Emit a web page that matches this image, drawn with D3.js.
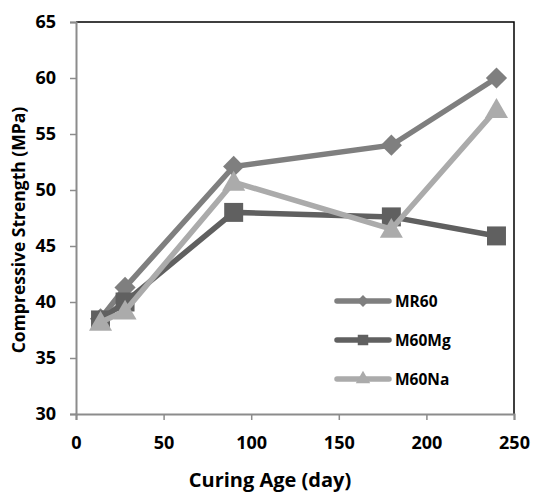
<!DOCTYPE html>
<html><head><meta charset="utf-8">
<script src="https://cdn.jsdelivr.net/npm/d3@7"></script>
<style>body{margin:0;background:#fff;} svg{display:block;}</style>
</head><body>
<script>
const days = [14, 28, 90, 180, 240];
const seriesNames = ["MR60", "M60Mg", "M60Na"];
const mr60 = [38.5, 41.3, 52.1, 54.0, 60.0];
const m60mg = [38.4, 40.0, 48.0, 47.6, 45.9];
const m60na = [38.2, 39.2, 50.7, 46.5, 57.2];
const xTicks = [0, 50, 100, 150, 200, 250];
const yTicks = [30, 35, 40, 45, 50, 55, 60, 65];

const W = 536, H = 492;
const m = {l: 76, r: 22, t: 22, b: 78};
const svg = d3.select("body").append("svg").attr("width", W).attr("height", H);
const x = d3.scaleLinear().domain([0, 250]).range([m.l, W - m.r]);
const y = d3.scaleLinear().domain([30, 65]).range([H - m.b, m.t]);
const font = "'Open Sans', sans-serif";

// frame top/right
svg.append("path").attr("d", `M${x(0)},${y(65)}H${x(250)}V${y(30)}`)
  .attr("fill", "none").attr("stroke", "#000").attr("stroke-width", 1.5);

const yAxis = svg.append("g").attr("transform", `translate(${x(0)},0)`)
  .call(d3.axisLeft(y).tickValues(yTicks).tickSize(6).tickPadding(14));
const xAxis = svg.append("g").attr("transform", `translate(0,${y(30)})`)
  .call(d3.axisBottom(x).tickValues(xTicks).tickSize(6).tickPadding(16));
[xAxis, yAxis].forEach(g => {
  g.select(".domain").attr("stroke", "#8c8c8c").attr("stroke-width", 2);
  g.selectAll(".tick line").attr("stroke", "#8c8c8c").attr("stroke-width", 1.5);
  g.selectAll("text").attr("font-family", font).attr("font-weight", "bold")
    .attr("font-size", 18).attr("fill", "#000");
});

const series = [
  {name: seriesNames[0], vals: mr60, color: "#7f7f7f", sym: d3.symbolSquare, rot: 45, size: 225, lsize: 70},
  {name: seriesNames[1], vals: m60mg, color: "#606060", sym: d3.symbolSquare, rot: 0, size: 360, lsize: 110},
  {name: seriesNames[2], vals: m60na, color: "#ababab", sym: d3.symbolTriangle, rot: 0, size: 230, lsize: 90}
];
const line = d3.line().x(d => x(d[0])).y(d => y(d[1]));
series.forEach(s => {
  const pts = days.map((d, i) => [d, s.vals[i]]);
  svg.append("path").datum(pts).attr("d", line).attr("fill", "none")
    .attr("stroke", s.color).attr("stroke-width", 5.5);
  svg.append("g").selectAll("path").data(pts).join("path")
    .attr("transform", d => `translate(${x(d[0])},${y(d[1]) + (s.name === "M60Na" ? 2 : 0)}) rotate(${s.rot})`)
    .attr("d", d3.symbol().type(s.sym).size(s.size))
    .attr("fill", s.color);
});

// legend
const lg = svg.append("g");
series.forEach((s, i) => {
  const ly = 301 + i * 39;
  lg.append("line").attr("x1", 337).attr("x2", 389).attr("y1", ly).attr("y2", ly)
    .attr("stroke", s.color).attr("stroke-width", 5.5).attr("stroke-linecap", "round");
  lg.append("path").attr("transform", `translate(363,${ly}) rotate(${s.rot})`)
    .attr("d", d3.symbol().type(s.sym).size(s.lsize)).attr("fill", s.color);
  lg.append("text").attr("x", 395).attr("y", ly).attr("dy", "0.36em")
    .attr("font-family", font).attr("font-weight", "bold").attr("font-size", 15.5)
    .attr("fill", "#000").text(s.name);
});

svg.append("text").attr("x", 270).attr("y", 487).attr("text-anchor", "middle")
  .attr("font-family", font).attr("font-weight", "bold").attr("font-size", 20)
  .text("Curing Age (day)");
svg.append("text").attr("transform", `translate(25,230) rotate(-90)`).attr("text-anchor", "middle")
  .attr("font-family", font).attr("font-weight", "bold").attr("font-size", 17.5)
  .text("Compressive Strength (MPa)");
</script>
</body></html>
